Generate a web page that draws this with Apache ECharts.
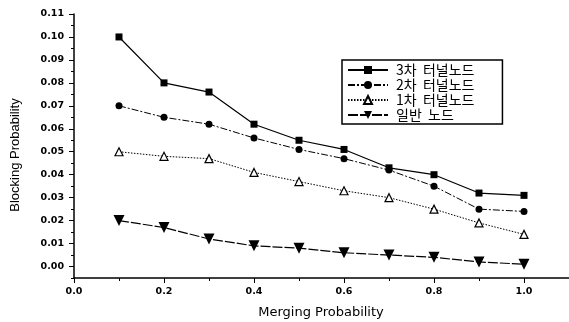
<!DOCTYPE html>
<html><head><meta charset="utf-8">
<script src="https://cdn.jsdelivr.net/npm/echarts@6/dist/echarts.min.js"></script>
<style>html,body{margin:0;padding:0;background:#fff}#c{width:569px;height:322px}</style>
</head><body><div id="c"></div>
<script>
const xValues = [0.1, 0.2, 0.3, 0.4, 0.5, 0.6, 0.7, 0.8, 0.9, 1.0];
const seriesNames = ['3차  터널노드', '2차  터널노드', '1차  터널노드', '일반  노드'];
const tunnel3 = [0.100, 0.080, 0.076, 0.062, 0.055, 0.051, 0.043, 0.040, 0.032, 0.031];
const tunnel2 = [0.070, 0.065, 0.062, 0.056, 0.051, 0.047, 0.042, 0.035, 0.025, 0.024];
const tunnel1 = [0.050, 0.048, 0.047, 0.041, 0.037, 0.033, 0.030, 0.025, 0.019, 0.014];
const normal  = [0.020, 0.017, 0.012, 0.009, 0.008, 0.006, 0.005, 0.004, 0.002, 0.001];
const xTickLabels = [0.0, 0.2, 0.4, 0.6, 0.8, 1.0];
const yTickLabels = [0.00, 0.01, 0.02, 0.03, 0.04, 0.05, 0.06, 0.07, 0.08, 0.09, 0.10, 0.11];

const pair = arr => arr.map((v, i) => [xValues[i], v]);
const chart = echarts.init(document.getElementById('c'));
const labelFont = {color: '#000', fontFamily: 'DejaVu Sans', fontWeight: 'bold', fontSize: 9.5};
const axisLine = {show: true, onZero: false, lineStyle: {color: '#000', width: 1.5}};

chart.setOption({
  animation: false,
  backgroundColor: '#fff',
  grid: {left: 74, right: 0, top: 14, bottom: 44, containLabel: false},
  xAxis: [{
    type: 'value', min: 0, max: 1.1, interval: 0.1,
    axisLine: axisLine,
    axisTick: {show: true, length: 5, lineStyle: {color: '#000'}, customValues: xTickLabels},
    axisLabel: Object.assign({margin: 9, customValues: xTickLabels, formatter: v => v.toFixed(1)}, labelFont),
    splitLine: {show: false}
  }, {
    type: 'value', min: 0, max: 1.1, interval: 0.1, position: 'bottom',
    axisLine: {show: false, onZero: false},
    axisTick: {show: true, length: 3, lineStyle: {color: '#000'}},
    axisLabel: {show: false}, splitLine: {show: false}
  }],
  yAxis: [{
    type: 'value', min: -0.005, max: 0.11, interval: 0.005,
    axisLine: axisLine,
    axisTick: {show: true, length: 5, lineStyle: {color: '#000'}, customValues: yTickLabels},
    axisLabel: Object.assign({margin: 10, customValues: yTickLabels, formatter: v => v.toFixed(2)}, labelFont),
    splitLine: {show: false}
  }, {
    type: 'value', min: -0.005, max: 0.11, interval: 0.005, position: 'left',
    axisLine: {show: false, onZero: false},
    axisTick: {show: true, length: 3, lineStyle: {color: '#000'}},
    axisLabel: {show: false}, splitLine: {show: false}
  }],
  legend: {
    orient: 'vertical', left: 342, top: 60,
    padding: [3, 28, 2, 5], itemGap: 1, itemWidth: 40, itemHeight: 10,
    borderColor: '#000', borderWidth: 1.5, borderRadius: 0,
    textStyle: {color: '#000', fontFamily: 'Noto Sans CJK KR', fontSize: 14, padding: [0, 0, 0, 3]},
    data: seriesNames
  },
  graphic: [{
    type: 'text', x: 15, y: 155, rotation: Math.PI / 2,
    style: {text: 'Blocking Probability', fill: '#000', font: '13px "Liberation Sans Narrow", "Liberation Sans"', align: 'center', verticalAlign: 'middle'}
  }, {
    type: 'text', x: 321, y: 313,
    style: {text: 'Merging Probability', fill: '#000', font: '13px "DejaVu Sans"', align: 'center', verticalAlign: 'middle'}
  }],
  series: [{
    name: seriesNames[0], type: 'line', data: pair(tunnel3),
    symbol: 'rect', symbolSize: 7,
    itemStyle: {color: '#000'}, lineStyle: {color: '#000', width: 1.2, type: 'solid'}
  }, {
    name: seriesNames[1], type: 'line', data: pair(tunnel2),
    symbol: 'circle', symbolSize: 7,
    itemStyle: {color: '#000'}, lineStyle: {color: '#000', width: 1, type: [7, 2, 2, 2]}
  }, {
    name: seriesNames[2], type: 'line', data: pair(tunnel1),
    symbol: 'triangle', symbolSize: 8,
    itemStyle: {color: '#fff', borderColor: '#000', borderWidth: 1.2},
    lineStyle: {color: '#000', width: 1, type: [1.5, 1.5]}
  }, {
    name: seriesNames[3], type: 'line', data: pair(normal),
    symbol: 'triangle', symbolRotate: 180, symbolSize: 11,
    itemStyle: {color: '#000'}, lineStyle: {color: '#000', width: 1.2, type: [10, 2]}
  }]
});
</script></body></html>
